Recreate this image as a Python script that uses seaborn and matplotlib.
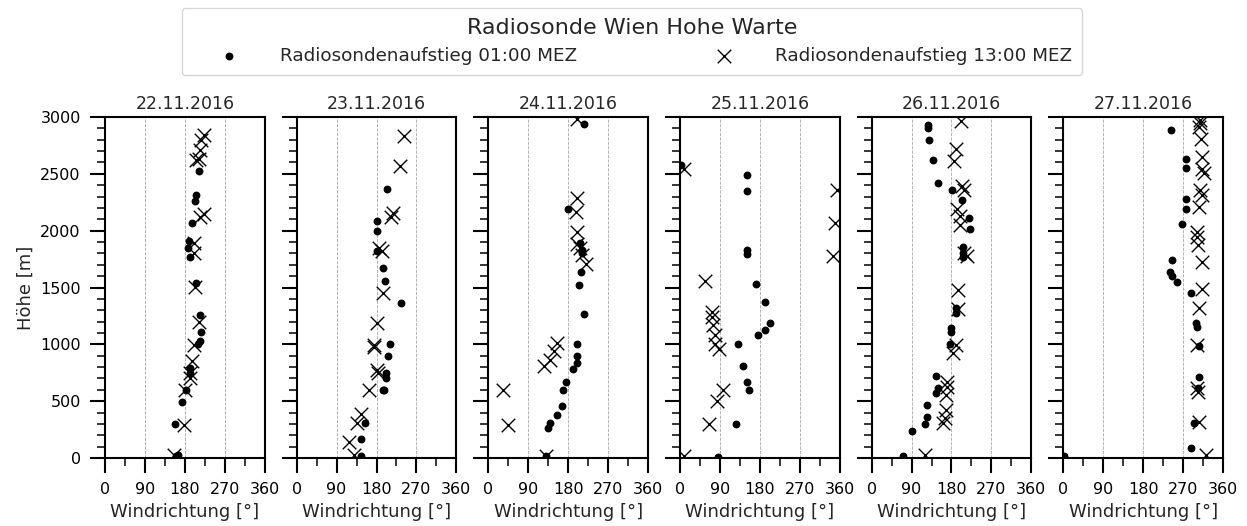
import numpy as np
import pandas as pd
import matplotlib
matplotlib.use('Agg')
import matplotlib.pyplot as plt
from matplotlib.ticker import MultipleLocator
import seaborn as sns

# Tage und Windrichtung/Hoehe pro Aufstieg
dates = ['22.11.2016', '23.11.2016', '24.11.2016', '25.11.2016', '26.11.2016', '27.11.2016']

# 22.11.
wd01_22 = [211, 204, 202, 197, 189, 186, 191, 206, 215, 217, 214, 210, 192, 191, 183, 174, 157, 164, 161]
z01_22 = [2526, 2318, 2263, 2064, 1911, 1844, 1771, 1537, 1256, 1106, 1033, 1004, 790, 752, 600, 489, 299, 23, 15]
wd13_22 = [223, 217, 215, 211, 206, 223, 215, 200, 200, 202, 211, 200, 195, 192, 191, 181, 177, 155]
z13_22 = [2839, 2795, 2708, 2634, 2620, 2151, 2122, 1888, 1800, 1507, 1200, 995, 849, 746, 702, 600, 293, 29]

# 23.11.
wd01_23 = [204, 180, 180, 180, 195, 200, 235, 211, 205, 201, 201, 195, 197, 155, 146, 145]
z01_23 = [2368, 2087, 1996, 1821, 1674, 1557, 1361, 1001, 893, 752, 702, 600, 594, 307, 170, 15]
wd13_23 = [243, 233, 218, 213, 186, 192, 195, 180, 174, 175, 180, 184, 164, 145, 136, 118, 130]
z13_23 = [2830, 2567, 2157, 2116, 1844, 1824, 1449, 1185, 995, 980, 776, 752, 600, 386, 307, 140, 29]

# 24.11.
wd01_24 = [215, 179, 207, 211, 211, 208, 205, 215, 200, 199, 199, 192, 175, 169, 165, 154, 139, 134, 131]
z01_24 = [2942, 2189, 1888, 1829, 1800, 1633, 1522, 1264, 1001, 893, 834, 781, 673, 594, 454, 380, 307, 263, 15]
wd13_24 = [199, 199, 198, 199, 199, 207, 211, 220, 154, 149, 139, 126, 33, 45, 130]
z13_24 = [2985, 2283, 2166, 1990, 1882, 1844, 1785, 1706, 1010, 937, 863, 805, 600, 293, 20]

# 25.11.
wd01_25 = [2, 151, 151, 151, 151, 171, 191, 202, 191, 175, 130, 141, 151, 155, 126, 85]
z01_25 = [2576, 2488, 2347, 1829, 1791, 1528, 1370, 1185, 1127, 1080, 1001, 805, 667, 600, 299, 9]
wd13_25 = [8, 354, 350, 344, 57, 72, 72, 74, 78, 78, 87, 96, 84, 66, 8]
z13_25 = [2546, 2362, 2064, 1780, 1557, 1282, 1238, 1171, 1083, 1001, 957, 600, 498, 299, 20]

# 26.11.
wd01_26 = [127, 127, 130, 139, 150, 182, 203, 219, 221, 206, 206, 206, 190, 190, 180, 178, 176,
           146, 150, 146, 125, 125, 120, 91, 71]
z01_26 = [2927, 2904, 2801, 2620, 2415, 2356, 2268, 2113, 2014, 1859, 1800, 1771, 1317, 1273, 1142, 1112, 1001,
          723, 615, 571, 468, 360, 301, 234, 15]
wd13_26 = [201, 190, 185, 203, 208, 193, 200, 199, 208, 214, 195, 194, 190, 184, 169, 170, 167, 167, 165, 161, 120]
z13_26 = [2962, 2722, 2611, 2391, 2356, 2195, 2128, 2049, 1800, 1777, 1478, 1308, 995, 922, 673, 629, 556, 424,
          351, 307, 29]

# 27.11.
wd01_27 = [242, 276, 276, 276, 276, 267, 246, 240, 244, 257, 287, 299, 301, 307, 307, 304, 295, 287, 2]
z01_27 = [2889, 2634, 2552, 2277, 2189, 2055, 1742, 1633, 1604, 1548, 1449, 1185, 1156, 981, 711, 615, 307, 88, 15]
wd13_27 = [308, 308, 306, 310, 312, 313, 317, 308, 312, 306, 301, 301, 304, 312, 312, 307, 301, 301, 303, 307, 322]
z13_27 = [2977, 2947, 2912, 2810, 2649, 2546, 2503, 2356, 2312, 2210, 1990, 1946, 1873, 1727, 1484, 1317, 995,
          615, 585, 313, 29]

lbl01 = 'Radiosondenaufstieg 01:00 MEZ'
lbl13 = 'Radiosondenaufstieg 13:00 MEZ'

runs = [
    (wd01_22, z01_22, wd13_22, z13_22),
    (wd01_23, z01_23, wd13_23, z13_23),
    (wd01_24, z01_24, wd13_24, z13_24),
    (wd01_25, z01_25, wd13_25, z13_25),
    (wd01_26, z01_26, wd13_26, z13_26),
    (wd01_27, z01_27, wd13_27, z13_27),
]

rows = []
for d, (w1, h1, w13, h13) in zip(dates, runs):
    rows += [{'Datum': d, 'Termin': lbl01, 'dd': a, 'z': b} for a, b in zip(w1, h1)]
    rows += [{'Datum': d, 'Termin': lbl13, 'dd': a, 'z': b} for a, b in zip(w13, h13)]
df = pd.DataFrame(rows)

sns.set_style('ticks', {'axes.edgecolor': 'black', 'xtick.color': 'black', 'ytick.color': 'black'})
plt.rcParams['font.family'] = ['DejaVu Sans']

fig, axes = plt.subplots(1, 6, figsize=(12.47, 5.26), dpi=100, sharey=True)
fig.subplots_adjust(left=105 / 1247, right=1223 / 1247, bottom=1 - 458 / 526, top=1 - 117 / 526, wspace=0.2)

for i, (ax, d) in enumerate(zip(axes, dates)):
    sub = df[df['Datum'] == d]
    s01 = sub[sub['Termin'] == lbl01]
    s13 = sub[sub['Termin'] == lbl13]
    sns.scatterplot(data=s01, x='dd', y='z', marker='o', color='black', edgecolor='black',
                    linewidth=0, s=32, ax=ax, label=lbl01 if i == 0 else None, legend=False, zorder=3)
    sns.scatterplot(data=s13, x='dd', y='z', marker='x', color='black',
                    linewidth=1.0, s=95, ax=ax, label=lbl13 if i == 0 else None, legend=False, zorder=3)
    ax.set_xlim(0, 360)
    ax.set_ylim(0, 3000)
    ax.set_xticks([0, 90, 180, 270, 360])
    ax.xaxis.set_minor_locator(MultipleLocator(45))
    ax.yaxis.set_major_locator(MultipleLocator(500))
    ax.yaxis.set_minor_locator(MultipleLocator(100))
    ax.grid(axis='x', which='major', linestyle='--', linewidth=0.6, color='0.65')
    ax.tick_params(which='major', length=11, width=1.5, labelsize=11.5, pad=6.5)
    ax.tick_params(which='minor', length=5.5, width=1.1)
    for sp in ax.spines.values():
        sp.set_linewidth(1.5)
        sp.set_visible(True)
    ax.set_title(d, fontsize=12.5)
    ax.set_xlabel('Windrichtung [°]', fontsize=13)
    if i == 0:
        ax.set_ylabel('Höhe [m]', fontsize=13)
    else:
        ax.set_ylabel('')

handles, labels = axes[0].get_legend_handles_labels()
leg = fig.legend(handles, labels, loc='upper center', bbox_to_anchor=(0.5068, 0.985), ncol=2,
                 title='Radiosonde Wien Hohe Warte', fontsize=13.2, title_fontsize=16,
                 handlelength=4, handletextpad=0.8, columnspacing=6.0, frameon=True,
                 edgecolor='0.8', fancybox=True, borderaxespad=0, borderpad=0.55)

fig.savefig('out.png', dpi=100)
